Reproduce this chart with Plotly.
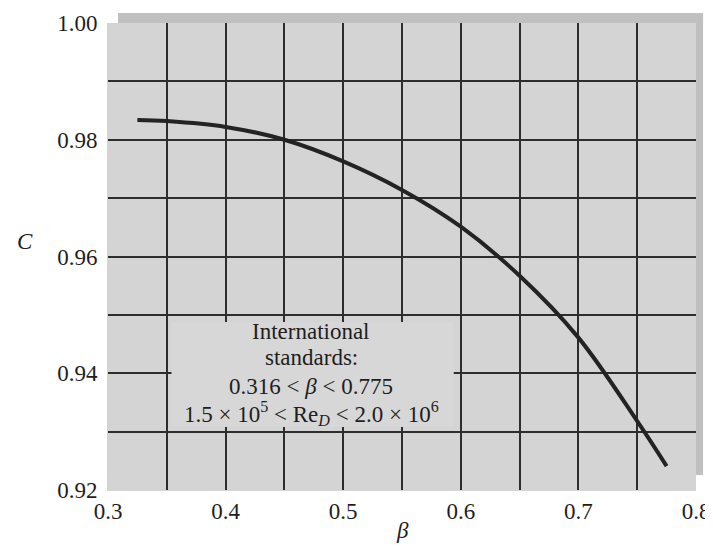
import plotly.graph_objects as go

# Data
beta = [0.325, 0.35, 0.40, 0.45, 0.50, 0.55, 0.60, 0.65, 0.70, 0.75, 0.775]
C_vals = [0.9834, 0.9832, 0.9822, 0.9800, 0.9763, 0.9714, 0.9651, 0.9567, 0.9461, 0.9318, 0.9241]

x_grid = [0.30, 0.35, 0.40, 0.45, 0.50, 0.55, 0.60, 0.65, 0.70, 0.75, 0.80]
x_text = ["0.3", "", "0.4", "", "0.5", "", "0.6", "", "0.7", "", "0.8"]
y_grid = [0.92, 0.93, 0.94, 0.95, 0.96, 0.97, 0.98, 0.99, 1.00]
y_text = ["0.92", "", "0.94", "", "0.96", "", "0.98", "", "1.00"]

note_lines = [
    "International",
    "standards:",
    "0.316 &lt; <i>β</i> &lt; 0.775",
    "1.5 × 10<sup>5</sup> &lt; Re<sub><i>D</i></sub> &lt; 2.0 × 10<sup>6</sup>",
]
note_y = [0.9471, 0.9427, 0.9377, 0.9331]

BG = "rgb(212,212,212)"
GRID = "rgb(45,45,45)"
INK = "rgb(30,30,30)"
FONT = "Liberation Serif"

fig = go.Figure()
fig.add_trace(go.Scatter(
    x=beta, y=C_vals, mode="lines",
    line=dict(color="rgb(35,35,35)", width=4, shape="spline", smoothing=1.0),
    showlegend=False, hoverinfo="skip",
))

# light box behind the annotation text (covers grid lines)
fig.add_shape(type="rect", xref="x", yref="y", x0=0.354, x1=0.594, y0=0.9308, y1=0.9488,
              fillcolor="rgb(215,215,215)", line=dict(width=0), layer="between")

# textured frame strips (top and right)
fig.add_shape(type="rect", xref="paper", yref="paper", x0=0.017, x1=1.012, y0=1.0, y1=1.0214,
              fillcolor="rgb(192,192,192)", line=dict(width=0), layer="below")
fig.add_shape(type="rect", xref="paper", yref="paper", x0=1.0, x1=1.012, y0=0.032, y1=1.0214,
              fillcolor="rgb(192,192,192)", line=dict(width=0), layer="below")

for txt, yy in zip(note_lines, note_y):
    fig.add_annotation(
        x=0.4727, y=yy, xref="x", yref="y", showarrow=False, text=txt,
        font=dict(family=FONT, size=23, color=INK), align="center",
        xanchor="center", yanchor="middle",
    )

fig.add_annotation(x=-0.158, y=0.533, xref="paper", yref="paper", showarrow=False,
                   text="<i>C</i>", font=dict(family=FONT, size=23, color=INK))
fig.add_annotation(x=0.5, y=-0.1178, xref="paper", yref="paper", showarrow=False,
                   text="<i>β</i>", font=dict(family=FONT, size=23, color=INK))

fig.update_layout(
    width=713, height=545,
    margin=dict(l=100, r=25, t=15, b=63, autoexpand=False),
    paper_bgcolor="white", plot_bgcolor=BG,
    xaxis=dict(range=[0.3, 0.8], tickvals=x_grid, ticktext=x_text, automargin=False,
               showgrid=True, gridcolor=GRID, gridwidth=2, zeroline=False,
               showline=True, linecolor=BG, linewidth=1, ticks="",
               tickfont=dict(family=FONT, size=23, color=INK)),
    yaxis=dict(range=[0.92, 1.00], tickvals=y_grid, ticktext=y_text, automargin=False,
               showgrid=True, gridcolor=GRID, gridwidth=2, zeroline=False,
               showline=True, linecolor=BG, linewidth=1, ticks="",
               ticklabelstandoff=5,
               tickfont=dict(family=FONT, size=23, color=INK)),
)

fig.write_html("out.html")
